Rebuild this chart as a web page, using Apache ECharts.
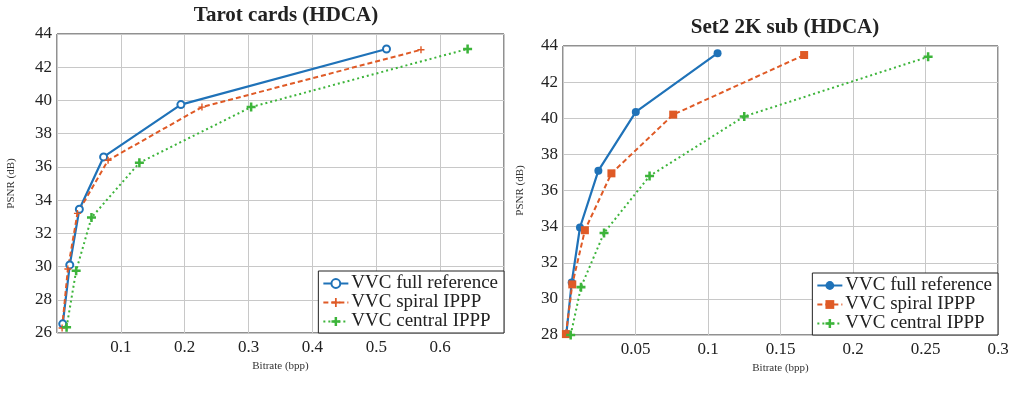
<!DOCTYPE html>
<html>
<head>
<meta charset="utf-8">
<script src="https://cdn.jsdelivr.net/npm/echarts@6/dist/echarts.min.js"></script>
<style>
  html, body { margin: 0; padding: 0; background: #fff; }
  #chart { width: 1024px; height: 397px; }
</style>
</head>
<body>
<div id="chart"></div>
<script>
// Tarot cards (HDCA)
const tarotFullX = [0.009, 0.020, 0.035, 0.073, 0.194, 0.516];
const tarotFullY = [26.55, 30.1, 33.45, 36.6, 39.75, 43.1];
const tarotSpiralX = [0.008, 0.017, 0.032, 0.080, 0.227, 0.570];
const tarotSpiralY = [26.3, 29.85, 33.2, 36.4, 39.6, 43.05];
const tarotCentralX = [0.015, 0.030, 0.054, 0.129, 0.304, 0.643];
const tarotCentralY = [26.35, 29.75, 32.95, 36.25, 39.6, 43.1];

// Set2 2K sub (HDCA)
const setFullX = [0.0023, 0.006, 0.0117, 0.0244, 0.0502, 0.1066];
const setFullY = [28.05, 30.9, 33.95, 37.1, 40.35, 43.6];
const setSpiralX = [0.002, 0.0064, 0.0151, 0.0334, 0.076, 0.1663];
const setSpiralY = [28.05, 30.8, 33.8, 36.95, 40.2, 43.5];
const setCentralX = [0.0053, 0.0124, 0.0283, 0.0597, 0.125, 0.2518];
const setCentralY = [28.0, 30.65, 33.65, 36.8, 40.1, 43.4];

const seriesNames = ['VVC full reference', 'VVC spiral IPPP', 'VVC central IPPP'];
const tarotTicksY = [26, 44, 2];
const setTicksY = [28, 44, 2];

const BLUE = '#1f72b8';
const ORANGE = '#df5a26';
const GREEN = '#3cb43a';
const FONT = 'Liberation Serif';
const PLUS_THICK = 'path://M3.6,0H6.4V3.6H10V6.4H6.4V10H3.6V6.4H0V3.6H3.6Z';
const PLUS_THIN = 'path://M4,0H6V4H10V6H6V10H4V6H0V4H4Z';

function pairs(xs, ys) {
  return xs.map((x, i) => [x, ys[i]]);
}

// names for the second chart get a zero-width space so each legend picks its own series
const names2 = seriesNames.map(n => n + '\u200b');

const chart = echarts.init(document.getElementById('chart'));

function xAxis(grid, max, interval) {
  return {
    type: 'value', gridIndex: grid, min: 0, max: max, interval: interval,
    name: 'Bitrate (bpp)', nameLocation: 'middle', nameGap: 26,
    nameTextStyle: { fontFamily: FONT, fontSize: 11, color: '#333' },
    axisLine: { show: false }, axisTick: { show: false },
    axisLabel: {
      fontFamily: FONT, fontSize: 17, color: '#222', margin: 6,
      formatter: v => (v === 0 || v > max - 1e-9 && max > 0.5) ? '' : String(+v.toFixed(2))
    },
    splitLine: { lineStyle: { color: '#c8c8c8', width: 1 } }
  };
}

function yAxis(grid, ticks, gap) {
  return {
    type: 'value', gridIndex: grid, min: ticks[0], max: ticks[1], interval: ticks[2],
    name: 'PSNR (dB)', nameLocation: 'middle', nameGap: gap,
    nameTextStyle: { fontFamily: FONT, fontSize: 11, color: '#333' },
    axisLine: { show: false }, axisTick: { show: false },
    axisLabel: { fontFamily: FONT, fontSize: 17, color: '#222', margin: 5 },
    splitLine: { lineStyle: { color: '#c8c8c8', width: 1 } }
  };
}

function legend(data, right, bottom) {
  return {
    data: data, orient: 'vertical', right: right, bottom: bottom,
    backgroundColor: '#fff', borderColor: '#222', borderWidth: 1, borderRadius: 0,
    padding: [3, 6, 2, 4], itemGap: 0, itemWidth: 25, itemHeight: 11,
    textStyle: { fontFamily: FONT, fontSize: 19, color: '#222', padding: [0, 0, 0, -2] }
  };
}

const option = {
  animation: false,
  title: [
    { text: 'Tarot cards (HDCA)', left: 281, top: 0, textAlign: 'center',
      textStyle: { fontFamily: FONT, fontSize: 21, fontWeight: 'bold', color: '#222' } },
    { text: 'Set2 2K sub (HDCA)', left: 780, top: 12, textAlign: 'center',
      textStyle: { fontFamily: FONT, fontSize: 21, fontWeight: 'bold', color: '#222' } }
  ],
  legend: [legend(seriesNames, 520, 64), legend(names2, 26, 62)],
  grid: [
    { left: 57, right: 520, top: 34, bottom: 64, show: true, borderColor: '#222', borderWidth: 1 },
    { left: 563, right: 26, top: 46, bottom: 62, show: true, borderColor: '#222', borderWidth: 1 }
  ],
  xAxis: [xAxis(0, 0.7, 0.1), xAxis(1, 0.3, 0.05)],
  yAxis: [yAxis(0, tarotTicksY, 40), yAxis(1, setTicksY, 37)],
  series: [
    { name: seriesNames[0], type: 'line', xAxisIndex: 0, yAxisIndex: 0,
      data: pairs(tarotFullX, tarotFullY), color: BLUE,
      symbol: 'emptyCircle', symbolSize: 7, lineStyle: { width: 2.2 }, itemStyle: { borderWidth: 1.6 } },
    { name: seriesNames[1], type: 'line', xAxisIndex: 0, yAxisIndex: 0,
      data: pairs(tarotSpiralX, tarotSpiralY), color: ORANGE,
      symbol: PLUS_THIN, symbolSize: 7, lineStyle: { width: 2, type: [5, 3] } },
    { name: seriesNames[2], type: 'line', xAxisIndex: 0, yAxisIndex: 0,
      data: pairs(tarotCentralX, tarotCentralY), color: GREEN,
      symbol: PLUS_THICK, symbolSize: 9, lineStyle: { width: 2, type: [2, 3] } },
    { name: names2[0], type: 'line', xAxisIndex: 1, yAxisIndex: 1,
      data: pairs(setFullX, setFullY), color: BLUE,
      symbol: 'circle', symbolSize: 8, lineStyle: { width: 2.2 } },
    { name: names2[1], type: 'line', xAxisIndex: 1, yAxisIndex: 1,
      data: pairs(setSpiralX, setSpiralY), color: ORANGE,
      symbol: 'rect', symbolSize: 8, lineStyle: { width: 2, type: [5, 3] } },
    { name: names2[2], type: 'line', xAxisIndex: 1, yAxisIndex: 1,
      data: pairs(setCentralX, setCentralY), color: GREEN,
      symbol: PLUS_THICK, symbolSize: 9, lineStyle: { width: 2, type: [2, 3] } }
  ]
};

chart.setOption(option);
</script>
</body>
</html>
